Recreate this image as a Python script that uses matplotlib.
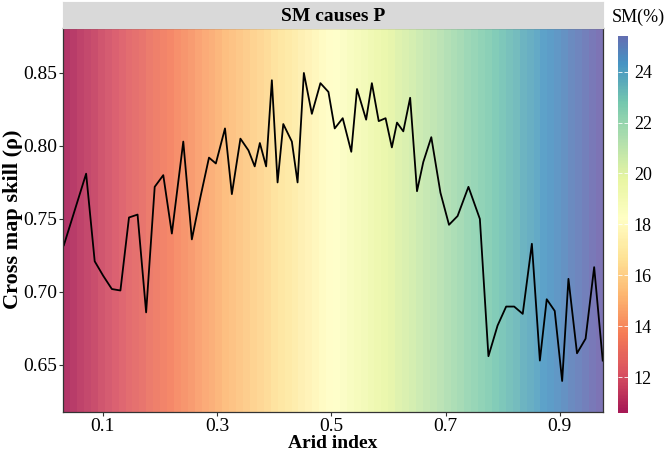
import numpy as np
import matplotlib
matplotlib.use("Agg")
import matplotlib.pyplot as plt
from matplotlib.colors import Normalize, LinearSegmentedColormap

plt.rcParams['font.family'] = ['Liberation Serif', 'DejaVu Serif']

# arid index (x) and cross map skill (rho)
arid = [0.032, 0.071, 0.086, 0.101, 0.116, 0.131, 0.146, 0.161, 0.176, 0.191,
        0.206, 0.221, 0.241, 0.256, 0.271, 0.286, 0.298, 0.314, 0.326, 0.341,
        0.355, 0.366, 0.375, 0.386, 0.396, 0.406, 0.416, 0.431, 0.441, 0.452,
        0.466, 0.481, 0.495, 0.506, 0.520, 0.535, 0.545, 0.561, 0.571, 0.583,
        0.595, 0.606, 0.615, 0.626, 0.638, 0.650, 0.661, 0.675, 0.691, 0.706,
        0.721, 0.740, 0.760, 0.775, 0.791, 0.806, 0.820, 0.835, 0.851, 0.865,
        0.877, 0.891, 0.904, 0.915, 0.930, 0.945, 0.960, 0.975]
rho = [0.732, 0.781, 0.721, 0.711, 0.702, 0.701, 0.751, 0.753, 0.686, 0.772,
       0.780, 0.740, 0.803, 0.736, 0.765, 0.792, 0.788, 0.812, 0.767, 0.805,
       0.797, 0.786, 0.802, 0.786, 0.845, 0.775, 0.815, 0.803, 0.775, 0.850,
       0.822, 0.843, 0.837, 0.812, 0.819, 0.796, 0.839, 0.818, 0.843, 0.817,
       0.819, 0.799, 0.816, 0.810, 0.833, 0.769, 0.789, 0.806, 0.768, 0.746,
       0.752, 0.772, 0.750, 0.656, 0.677, 0.690, 0.690, 0.685, 0.733, 0.653,
       0.695, 0.687, 0.639, 0.709, 0.658, 0.668, 0.717, 0.653]

xticks = [0.1, 0.3, 0.5, 0.7, 0.9]
yticks = [0.65, 0.70, 0.75, 0.80, 0.85]
sm_ticks = [12, 14, 16, 18, 20, 22, 24]
sm_range = (10.6, 25.4)

xlim = (0.031, 0.975)
ylim = (0.618, 0.881)

fig = plt.figure(figsize=(6.66, 4.53), dpi=100)
ax = fig.add_axes([0.095, 0.0912, 0.810, 0.8477])

# background: vertical colour stripes along the arid index
edges = np.linspace(xlim[0], xlim[1], 79)
mids = (edges[1:] + edges[:-1]) / 2
ax.pcolormesh(edges, ylim, ((mids - xlim[0]) / (xlim[1] - xlim[0]))[None, :],
              cmap='Spectral', vmin=0, vmax=1, alpha=0.8, shading='flat',
              edgecolors='none', antialiased=False)

ax.plot(arid, rho, color='black', lw=1.3)
ax.set_xlim(xlim)
ax.set_ylim(ylim)
ax.set_xticks(xticks)
ax.set_xticklabels([f"{t:.1f}" for t in xticks])
ax.set_yticks(yticks)
ax.set_yticklabels([f"{t:.2f}" for t in yticks])
ax.tick_params(labelsize=14, length=3, width=0.8, color='#333333', pad=1.5)
ax.set_xlabel("Arid index", fontsize=14, fontweight='bold')
ax.xaxis.label.set_va('center')
ax.xaxis.set_label_coords(0.5, -0.0841)
ax.set_ylabel("Cross map skill (\u03c1)", fontsize=16, fontweight='bold')
ax.yaxis.label.set_va('center')
ax.yaxis.set_label_coords(-0.094, 0.5)
for s in ax.spines.values():
    s.set_color('#333333')
    s.set_linewidth(0.9)

# facet strip
strip = fig.add_axes([0.095, 0.9389, 0.810, 0.0567])
strip.set_facecolor('#D9D9D9')
strip.set_xticks([])
strip.set_yticks([])
for s in strip.spines.values():
    s.set_color('#D9D9D9')
strip.text(0.5, 0.45, "SM causes P", ha='center', va='center',
           fontsize=14, fontweight='bold', transform=strip.transAxes)

# colour bar
cmap = LinearSegmentedColormap.from_list(
    'spec', plt.get_cmap('Spectral')(np.linspace(0.0, 0.97, 256)))
cax = fig.add_axes([0.9284, 0.089, 0.015, 0.8316])
sm = plt.cm.ScalarMappable(norm=Normalize(*sm_range), cmap=cmap)
cb = fig.colorbar(sm, cax=cax, ticks=sm_ticks)
cb.outline.set_visible(False)
cb.solids.set_alpha(0.9)
cax.tick_params(labelsize=13, length=3, color='white', width=0.6, pad=4,
                direction='in', left=True, right=True)
fig.text(0.958, 0.962, "SM(%)", ha='center', va='center', fontsize=13)

fig.savefig("out.png", dpi=100)
